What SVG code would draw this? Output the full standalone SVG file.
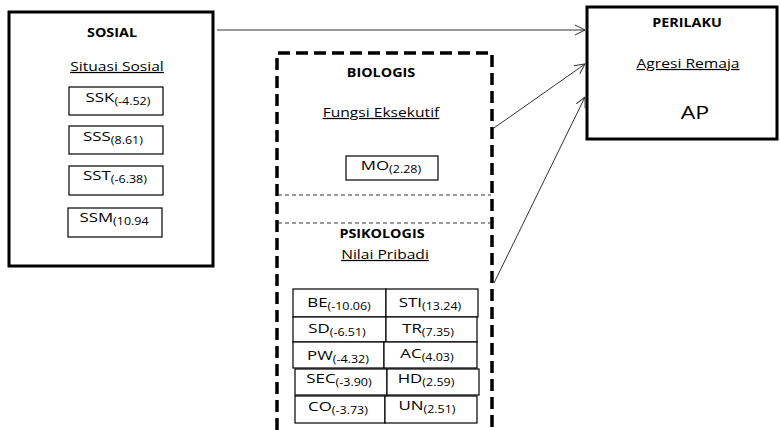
<svg xmlns="http://www.w3.org/2000/svg" width="780" height="430" viewBox="0 0 780 430">
<style>
text{font-family:"Open Sans","Liberation Sans",sans-serif;fill:#000;text-anchor:middle}
.h{font-weight:bold;font-size:11.5px}
.u{font-size:12.5px;text-decoration:underline}
.b{font-size:13.5px}
.s{font-size:10px}
.box{fill:#fff;stroke:#000;stroke-width:1.2}
.big{fill:#fff;stroke:#000;stroke-width:3}
.dash{fill:none;stroke:#000;stroke-width:3.5;stroke-dasharray:12 6}
.thin{fill:none;stroke:#333;stroke-width:1;stroke-dasharray:4 3}
.con{fill:none;stroke:#333;stroke-width:1;marker-end:url(#a)}
</style>
<defs>
<marker id="a" markerWidth="12" markerHeight="12" refX="11" refY="6" orient="auto" markerUnits="userSpaceOnUse">
<path d="M1,1 L11,6 L1,11" fill="none" stroke="#333" stroke-width="1"/>
</marker>
</defs>
<rect width="780" height="430" fill="#fff"/>
<g id="sosial">
<rect class="big" x="9" y="12" width="204" height="254"/>
<text class="h" transform="translate(112,37) scale(1.25,1)">SOSIAL</text>
<text class="u" transform="translate(117,71) scale(1.25,1)">Situasi Sosial</text>
<g id="ssk"><rect class="box" x="69" y="87" width="94" height="28"/><text class="b" transform="translate(118,102) scale(1.25,1)">SSK<tspan class="s" dy="3">(-4.52)</tspan></text></g>
<g id="sss"><rect class="box" x="69" y="126" width="94" height="28"/><text class="b" transform="translate(113,141) scale(1.25,1)">SSS<tspan class="s" dy="3">(8.61)</tspan></text></g>
<g id="sst"><rect class="box" x="69" y="166" width="94" height="29"/><text class="b" transform="translate(115,180) scale(1.25,1)">SST<tspan class="s" dy="3">(-6.38)</tspan></text></g>
<g id="ssm"><rect class="box" x="68" y="208" width="94" height="29"/><text class="b" transform="translate(114,222) scale(1.25,1)">SSM<tspan class="s" dy="3">(10.94</tspan></text></g>
</g>
<g id="perilaku">
<rect class="big" x="587" y="7" width="190" height="132"/>
<text class="h" transform="translate(687,27) scale(1.25,1)">PERILAKU</text>
<text class="u" transform="translate(688,68) scale(1.25,1)">Agresi Remaja</text>
<text transform="translate(695,119) scale(1.25,1)" style="font-size:18.5px">AP</text>
</g>
<g id="biologis-psikologis">
<path class="dash" d="M277,430 V53 H492 V430"/>
<path class="thin" d="M278,195 H491 M278,223 H491"/>
</g>
<g id="biologis">
<text class="h" transform="translate(381,77) scale(1.25,1)">BIOLOGIS</text>
<text class="u" transform="translate(381,117) scale(1.25,1)">Fungsi Eksekutif</text>
<g id="mo"><rect class="box" x="346" y="156" width="92" height="24"/><text class="b" transform="translate(391,170) scale(1.25,1)">MO<tspan class="s" dy="3">(2.28)</tspan></text></g>
</g>
<g id="psikologis">
<text class="h" transform="translate(382,238) scale(1.25,1)">PSIKOLOGIS</text>
<text class="u" transform="translate(385,259) scale(1.25,1)">Nilai Pribadi</text>
<g id="be"><rect class="box" x="293" y="289" width="93" height="28"/><text class="b" transform="translate(339,307) scale(1.25,1)">BE<tspan class="s" dy="3">(-10.06)</tspan></text></g>
<g id="sti"><rect class="box" x="386" y="289" width="92" height="28"/><text class="b" transform="translate(430,307) scale(1.25,1)">STI<tspan class="s" dy="3">(13.24)</tspan></text></g>
<g id="sd"><rect class="box" x="293" y="317" width="93" height="25"/><text class="b" transform="translate(337,333) scale(1.25,1)">SD<tspan class="s" dy="3">(-6.51)</tspan></text></g>
<g id="tr"><rect class="box" x="386" y="317" width="91" height="25"/><text class="b" transform="translate(428,333) scale(1.25,1)">TR<tspan class="s" dy="3">(7.35)</tspan></text></g>
<g id="pw"><rect class="box" x="293" y="342" width="91" height="26"/><text class="b" transform="translate(338,360) scale(1.25,1)">PW<tspan class="s" dy="3">(-4.32)</tspan></text></g>
<g id="ac"><rect class="box" x="384" y="342" width="93" height="26"/><text class="b" transform="translate(427,358) scale(1.25,1)">AC<tspan class="s" dy="3">(4.03)</tspan></text></g>
<g id="sec"><rect class="box" x="295" y="369" width="92" height="26"/><text class="b" transform="translate(339,383) scale(1.25,1)">SEC<tspan class="s" dy="3">(-3.90)</tspan></text></g>
<g id="hd"><rect class="box" x="387" y="369" width="92" height="26"/><text class="b" transform="translate(426,383) scale(1.25,1)">HD<tspan class="s" dy="3">(2.59)</tspan></text></g>
<g id="co"><rect class="box" x="295" y="396" width="90" height="27"/><text class="b" transform="translate(338,411) scale(1.25,1)">CO<tspan class="s" dy="3">(-3.73)</tspan></text></g>
<g id="un"><rect class="box" x="385" y="396" width="92" height="27"/><text class="b" transform="translate(427,410) scale(1.25,1)">UN<tspan class="s" dy="3">(2.51)</tspan></text></g>
</g>
<g id="connectors">
<path class="con" d="M217,30 H585"/>
<path class="con" d="M494,128 L585,64"/>
<path class="con" d="M494,283 L585,97"/>
</g>
</svg>
